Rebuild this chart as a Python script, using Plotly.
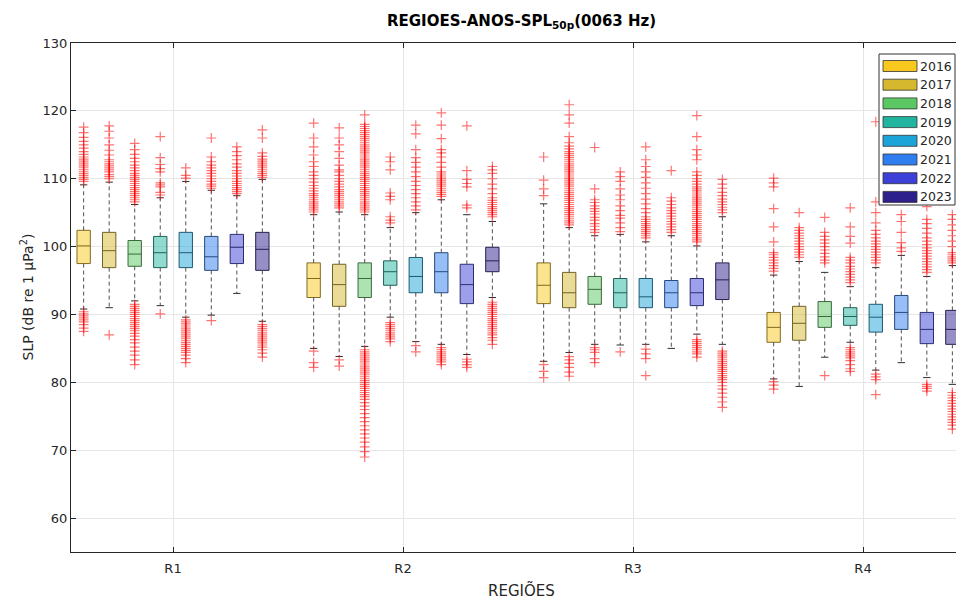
import plotly.graph_objects as go

# ---------------- data ----------------
REGIONS = ["R1", "R2", "R3", "R4"]
YEARS = ["2016", "2017", "2018", "2019", "2020", "2021", "2022", "2023"]
COLORS = ["#F9C81E", "#D6B82E", "#5CC863", "#21B5A0",
          "#1CA3D8", "#2F7EF0", "#3C40D6", "#2E208C"]

# rows = years, columns = regions R1..R4
Q3 = [[102.4, 97.6, 97.6, 90.3],
      [102.1, 97.4, 96.2, 91.2],
      [100.9, 97.6, 95.6, 91.9],
      [101.5, 97.9, 95.3, 91.0],
      [102.1, 98.4, 95.3, 91.5],
      [101.5, 99.1, 95.0, 92.8],
      [101.8, 97.4, 95.3, 90.3],
      [102.1, 99.9, 97.6, 90.6]]
MED = [[100.1, 95.3, 94.3, 88.1],
       [99.4, 94.4, 93.2, 88.7],
       [98.9, 95.3, 93.7, 89.7],
       [99.1, 96.3, 93.2, 89.7],
       [99.1, 95.6, 92.6, 89.6],
       [98.5, 96.3, 93.2, 90.3],
       [99.9, 94.4, 93.2, 87.8],
       [99.6, 97.9, 95.1, 87.8]]
Q1 = [[97.5, 92.5, 91.6, 85.9],
      [96.9, 91.2, 91.0, 86.2],
      [97.1, 92.5, 91.5, 88.1],
      [96.9, 94.3, 91.0, 88.4],
      [96.9, 93.2, 91.0, 87.4],
      [96.5, 93.2, 91.0, 87.8],
      [97.5, 91.6, 91.3, 85.7],
      [96.5, 96.3, 92.2, 85.6]]
WHI = [[109.1, 104.7, 106.3, 95.8],
       [109.5, 105.1, 102.8, 97.8],
       [106.2, 104.7, 101.6, 96.2],
       [107.2, 102.8, 101.8, 94.1],
       [109.6, 105.0, 100.7, 96.9],
       [108.3, 106.9, 101.6, 98.7],
       [107.5, 104.7, 100.1, 95.6],
       [109.9, 103.7, 104.4, 97.2]]
WLO = [[90.8, 85.0, 83.1, 80.5],
       [91.0, 83.8, 84.4, 79.4],
       [92.0, 85.3, 85.6, 83.7],
       [91.3, 89.6, 85.5, 85.9],
       [89.6, 86.0, 85.6, 81.8],
       [89.9, 85.6, 85.0, 82.9],
       [93.1, 84.1, 87.1, 80.7],
       [89.0, 92.5, 85.6, 79.7]]

# outliers per region, one list per year (2016..2023)
OUT_R1 = [
    [109.6, 109.9, 110.2, 110.5, 110.8, 111.1, 111.4, 111.7, 112.0, 112.3, 112.6, 112.9, 113.2, 113.6, 114.0,
     114.5, 115.0, 115.5, 116.1, 116.8, 117.6,
     90.4, 90.1, 89.8, 89.5, 89.2, 88.9, 88.5, 88.0, 87.5],
    [110.0, 110.3, 110.6, 111.0, 111.3, 111.6, 111.9, 112.2, 112.5, 112.8, 113.5, 114.2, 115.0, 116.0, 117.0,
     117.8, 87.0],
    [106.6, 106.9, 107.2, 107.5, 107.8, 108.1, 108.4, 108.7, 109.0, 109.3, 109.6, 109.9, 110.2, 110.5, 110.8,
     111.2, 111.6, 112.0, 112.5, 113.0, 113.6, 114.3, 115.2,
     91.5, 91.2, 90.9, 90.6, 90.3, 90.0, 89.7, 89.4, 89.1, 88.8, 88.5, 88.2, 87.9, 87.6, 87.2, 86.8, 86.3,
     85.8, 85.2, 84.6, 84.0, 83.3, 82.6],
    [107.6, 108.0, 108.8, 109.1, 109.4, 111.0, 111.5, 112.1, 113.1, 116.2, 90.1],
    [110.1, 110.5, 111.6,
     89.2, 88.9, 88.6, 88.3, 88.0, 87.7, 87.4, 87.1, 86.8, 86.5, 86.2, 85.9, 85.6, 85.3, 85.0, 84.7, 84.4,
     84.0, 83.5, 82.9],
    [108.6, 108.9, 109.2, 109.6, 110.0, 110.4, 110.8, 111.2, 111.6, 112.0, 112.5, 113.2, 116.0, 89.1],
    [107.8, 108.1, 108.4, 108.7, 109.0, 109.3, 109.6, 110.0, 110.4, 110.8, 111.2, 111.7, 112.2, 112.8, 113.4,
     114.0, 114.7],
    [110.2, 110.5, 110.8, 111.1, 111.4, 111.7, 112.0, 112.3, 112.6, 112.9, 113.3, 113.8, 116.0, 117.2,
     88.5, 88.2, 87.9, 87.6, 87.3, 87.0, 86.7, 86.4, 86.1, 85.8, 85.5, 85.2, 84.8, 84.3, 83.7],
]
OUT_R2 = [
    [105.1, 105.4, 105.7, 106.0, 106.3, 106.6, 106.9, 107.2, 107.5, 107.8, 108.2, 108.6, 109.0, 109.5, 110.0,
     110.5, 111.0, 111.8, 112.5, 113.5, 114.7, 116.0, 118.2, 84.6, 82.9, 82.2],
    [105.7, 106.0, 106.3, 106.6, 106.9, 107.2, 107.5, 107.8, 108.1, 108.4, 108.8, 109.2, 109.6, 110.0, 110.5,
     111.0, 111.3, 112.0, 113.0, 114.0, 115.0, 116.0, 117.5, 83.3, 82.4],
    [105.1, 105.4, 105.7, 106.0, 106.3, 106.6, 106.9, 107.2, 107.5, 107.8, 108.1, 108.4, 108.7, 109.0, 109.3,
     109.6, 109.9, 110.2, 110.5, 110.8, 111.1, 111.4, 111.7, 112.0, 112.3, 112.6, 112.9, 113.2, 113.5, 113.8,
     114.1, 114.4, 114.7, 115.0, 115.3, 115.6, 115.9, 116.2, 116.5, 116.8, 117.1, 117.4, 117.7, 118.0, 119.4,
     84.8, 84.5, 84.2, 83.9, 83.6, 83.3, 83.0, 82.7, 82.4, 82.1, 81.8, 81.5, 81.2, 80.9, 80.6, 80.3, 80.0,
     79.7, 79.4, 79.1, 78.8, 78.5, 78.2, 77.9, 77.5, 77.0, 76.5, 76.0, 75.4, 74.8, 74.2, 73.6, 73.0, 72.4,
     71.8, 71.2, 70.5, 69.8, 69.0],
    [103.5, 103.9, 104.4, 106.9, 107.4, 107.9, 111.3, 112.5, 113.2,
     88.8, 88.5, 88.2, 87.9, 87.6, 87.3, 87.0, 86.7, 86.4, 86.0],
    [105.4, 106.0, 106.6, 107.2, 107.8, 108.4, 109.0, 109.6, 110.3, 111.0, 111.7, 112.4, 113.1, 114.3, 116.6,
     117.9, 85.4, 84.5],
    [107.4, 107.7, 108.0, 108.3, 108.6, 108.9, 109.2, 109.5, 109.8, 110.1, 110.4, 110.7, 111.0, 111.7, 112.4,
     113.2, 113.8, 114.3, 115.9, 117.9, 119.7,
     85.1, 84.8, 84.5, 84.2, 83.9, 83.6, 83.3, 83.0, 82.6],
    [105.7, 106.1, 108.8, 109.3, 109.9, 111.2, 117.8, 83.4, 83.0, 82.6, 82.2],
    [104.4, 104.7, 105.0, 105.3, 105.6, 105.9, 106.2, 106.5, 106.8, 107.2, 107.8, 108.5, 109.2, 110.0, 110.8,
     111.3, 111.8,
     91.8, 91.5, 91.2, 90.9, 90.6, 90.3, 90.0, 89.7, 89.4, 89.1, 88.8, 88.5, 88.2, 87.9, 87.6, 87.3, 87.0,
     86.6, 86.2, 85.6],
]
OUT_R3 = [
    [107.5, 108.5, 109.8, 113.2, 82.6, 81.6, 80.7],
    [103.2, 103.5, 103.8, 104.1, 104.4, 104.7, 105.0, 105.3, 105.6, 105.9, 106.2, 106.5, 106.8, 107.1, 107.4,
     107.7, 108.0, 108.3, 108.6, 108.9, 109.2, 109.5, 109.8, 110.1, 110.4, 110.7, 111.0, 111.3, 111.6, 111.9,
     112.2, 112.5, 112.8, 113.1, 113.4, 113.7, 114.0, 114.4, 114.8, 115.3, 116.2, 118.2, 119.4, 120.9,
     83.8, 83.3, 82.8, 82.2, 81.5, 80.9],
    [102.1, 102.5, 103.0, 103.4, 103.9, 104.3, 104.8, 105.2, 105.6, 106.0, 106.5, 106.9, 108.5, 114.6,
     85.1, 84.8, 84.4, 83.5, 82.9],
    [102.2, 102.8, 103.5, 104.2, 104.6, 105.3, 106.0, 106.9, 107.6, 108.5, 109.6, 110.3, 111.0, 84.5],
    [101.3, 101.6, 101.9, 102.2, 102.5, 102.8, 103.1, 103.4, 103.7, 104.0, 104.4, 105.0, 105.6, 106.3, 107.0,
     107.8, 108.6, 109.4, 110.2, 111.0, 111.8, 112.8, 114.7, 84.9, 84.2, 83.5, 81.0],
    [102.1, 102.5, 102.9, 103.3, 103.7, 104.1, 104.5, 104.9, 105.3, 105.7, 106.2, 106.7, 107.2, 111.2],
    [100.7, 101.0, 101.3, 101.6, 101.9, 102.2, 102.5, 102.8, 103.1, 103.4, 103.7, 104.0, 104.3, 104.6, 104.9,
     105.2, 105.5, 105.8, 106.1, 106.4, 106.7, 107.0, 107.3, 107.6, 107.9, 108.2, 108.5, 108.8, 109.2, 109.6,
     110.0, 110.5, 111.0, 112.8, 113.5, 114.3, 116.2, 119.3,
     86.3, 86.0, 85.7, 85.4, 85.1, 84.8, 84.5, 84.2, 83.7],
    [105.0, 105.4, 105.8, 106.2, 106.6, 107.0, 107.5, 108.0, 108.6, 109.2, 109.9,
     84.6, 84.3, 84.0, 83.7, 83.4, 83.1, 82.8, 82.5, 82.2, 81.9, 81.6, 81.3, 81.0, 80.7, 80.4, 80.0, 79.5,
     79.0, 78.4, 77.8, 77.1, 76.3],
]
OUT_R4 = [
    [96.4, 96.8, 97.2, 97.6, 98.0, 98.4, 98.8, 99.1, 100.7, 102.9, 105.6, 108.8, 109.4, 110.1, 80.1, 79.6, 79.0],
    [98.4, 98.8, 99.2, 99.6, 100.0, 100.4, 100.8, 101.2, 101.6, 102.0, 102.4, 102.8, 105.0],
    [97.6, 98.0, 98.5, 99.0, 99.5, 100.0, 100.5, 101.0, 101.5, 102.1, 104.3, 81.0],
    [94.7, 95.1, 95.5, 95.9, 96.3, 96.7, 97.1, 97.6, 98.0, 98.4, 100.5, 101.5, 102.9, 105.7,
     85.1, 84.8, 84.5, 84.2, 83.9, 83.6, 83.2, 82.6, 82.0, 81.6],
    [97.6, 98.0, 98.4, 98.8, 99.2, 99.6, 100.0, 100.4, 100.8, 101.3, 101.8, 102.4, 103.5, 105.0, 106.6, 118.4,
     81.2, 80.8, 80.4, 78.2],
    [99.3, 99.8, 100.6, 102.1, 103.7, 104.7],
    [96.2, 96.6, 97.0, 97.4, 97.8, 98.2, 98.6, 99.0, 99.4, 99.8, 100.3, 100.8, 101.3, 102.0, 102.7, 103.4,
     104.0, 105.9, 79.7, 79.4, 79.1, 78.7],
    [97.6, 97.9, 98.2, 98.5, 98.8, 99.1, 100.0, 100.8, 101.6, 102.4, 103.2, 104.0, 104.7,
     78.5, 78.1, 77.7, 77.3, 76.9, 76.5, 76.1, 75.7, 75.3, 74.9, 74.5, 74.1, 73.7, 73.1],
]
OUTLIERS = [OUT_R1, OUT_R2, OUT_R3, OUT_R4]

# ---------------- style / layout constants ----------------
W, H = 956, 599
ML, MR, MT, MB = 71, 0, 43, 47
PW, PH = W - ML - MR, H - MT - MB
GROUP_STEP = 0.111      # spacing between years inside a region (x units)
BOX_W = 0.058
CAP_HALF = 0.016
X_RANGE = [0.5565, 0.5565 + PW / 230.0]
AX_COL = "#262626"
FONT = "DejaVu Sans, Liberation Sans, Arial, sans-serif"


def hex_rgb(h):
    h = h.lstrip("#")
    return tuple(int(h[i:i + 2], 16) for i in (0, 2, 4))


def rgba(h, a):
    r, g, b = hex_rgb(h)
    return f"rgba({r},{g},{b},{a})"


def dark(h, f=0.5, base=30):
    r, g, b = hex_rgb(h)
    return f"rgb({int(r * f + base * (1 - f))},{int(g * f + base * (1 - f))},{int(b * f + base * (1 - f))})"


def xpos(ri, yi):
    return (ri + 1) + (yi - (len(YEARS) - 1) / 2) * GROUP_STEP


fig = go.Figure()

# whiskers (dashed) and caps
for yi, yr in enumerate(YEARS):
    wx, wy, cx, cy = [], [], [], []
    for ri in range(len(REGIONS)):
        p = xpos(ri, yi)
        wx += [p, p, None, p, p, None]
        wy += [Q3[yi][ri], WHI[yi][ri], None, Q1[yi][ri], WLO[yi][ri], None]
        cx += [p - CAP_HALF, p + CAP_HALF, None, p - CAP_HALF, p + CAP_HALF, None]
        cy += [WHI[yi][ri], WHI[yi][ri], None, WLO[yi][ri], WLO[yi][ri], None]
    fig.add_trace(go.Scatter(x=wx, y=wy, mode="lines", showlegend=False, hoverinfo="skip",
                             line=dict(color="#505050", width=1, dash="4px,3px")))
    fig.add_trace(go.Scatter(x=cx, y=cy, mode="lines", showlegend=False, hoverinfo="skip",
                             line=dict(color="#303030", width=1)))

# boxes
for yi, yr in enumerate(YEARS):
    xs = [xpos(ri, yi) for ri in range(len(REGIONS))]
    fig.add_trace(go.Box(
        name=yr, x=xs, q1=Q1[yi], median=MED[yi], q3=Q3[yi],
        lowerfence=Q1[yi], upperfence=Q3[yi],
        width=BOX_W, whiskerwidth=0, boxpoints=False,
        fillcolor=rgba(COLORS[yi], 0.5),
        line=dict(color=dark(COLORS[yi], 0.45), width=1),
        showlegend=False, hoverinfo="skip"))

# outliers
ox, oy = [], []
for ri, per_year in enumerate(OUTLIERS):
    for yi, vals in enumerate(per_year):
        p = xpos(ri, yi)
        ox += [p] * len(vals)
        oy += vals
fig.add_trace(go.Scatter(x=ox, y=oy, mode="markers", showlegend=False, hoverinfo="skip",
                         marker=dict(symbol="cross-thin", size=7,
                                     line=dict(width=1.2, color="rgba(255,0,0,0.55)"))))

# ---------------- custom legend (MATLAB style) ----------------
def px2paper_x(px):
    return (px - ML) / PW


def px2paper_y(py):
    return (H - MB - py) / PH


shapes = []
annotations = []
LEG_L, LEG_R, LEG_T, LEG_B = 879, 955, 54, 205
shapes.append(dict(type="rect", xref="paper", yref="paper",
                   x0=px2paper_x(LEG_L), x1=px2paper_x(LEG_R),
                   y0=px2paper_y(LEG_B), y1=px2paper_y(LEG_T),
                   fillcolor="white", line=dict(color="#333333", width=1), layer="above"))
for i, yr in enumerate(YEARS):
    cy = 66 + i * 18.7
    shapes.append(dict(type="rect", xref="paper", yref="paper",
                       x0=px2paper_x(883), x1=px2paper_x(917),
                       y0=px2paper_y(cy + 5.5), y1=px2paper_y(cy - 5.5),
                       fillcolor=COLORS[i], line=dict(color="#333333", width=0.8), layer="above"))
    annotations.append(dict(xref="paper", yref="paper", x=px2paper_x(918), y=px2paper_y(cy),
                            xanchor="left", yanchor="middle", showarrow=False, text=yr,
                            font=dict(family=FONT, size=12.5, color=AX_COL)))

# title, axis labels
annotations.append(dict(xref="paper", yref="paper", x=px2paper_x(521), y=px2paper_y(21),
                        xanchor="center", yanchor="middle", showarrow=False,
                        text="<b>REGIOES-ANOS-SPL<sub>50p</sub>(0063 Hz)</b>",
                        font=dict(family=FONT, size=15, color="#000000")))
annotations.append(dict(xref="paper", yref="paper", x=px2paper_x(521), y=px2paper_y(590),
                        xanchor="center", yanchor="middle", showarrow=False, text="REGIÕES",
                        font=dict(family=FONT, size=15, color=AX_COL)))
annotations.append(dict(xref="paper", yref="paper", x=px2paper_x(27), y=0.5,
                        xanchor="center", yanchor="middle", showarrow=False, textangle=-90,
                        text="SLP (dB re 1 μPa<sup>2</sup>)",
                        font=dict(family=FONT, size=14, color=AX_COL)))

fig.update_layout(
    width=W, height=H, margin=dict(l=ML, r=MR, t=MT, b=MB),
    paper_bgcolor="white", plot_bgcolor="white",
    font=dict(family=FONT, size=13, color=AX_COL),
    boxmode="overlay", shapes=shapes, annotations=annotations,
    xaxis=dict(range=X_RANGE, tickmode="array", tickvals=[1, 2, 3, 4], ticktext=REGIONS,
               showgrid=True, gridcolor="#E6E6E6", gridwidth=1, zeroline=False,
               showline=True, linecolor=AX_COL, linewidth=1, mirror="ticks",
               ticks="inside", ticklen=5, tickcolor=AX_COL, ticklabelstandoff=4,
               tickfont=dict(family=FONT, size=13, color=AX_COL)),
    yaxis=dict(range=[55, 130], tickmode="array", tickvals=[60, 70, 80, 90, 100, 110, 120, 130],
               showgrid=True, gridcolor="#E6E6E6", gridwidth=1, zeroline=False,
               showline=True, linecolor=AX_COL, linewidth=1, mirror=False,
               ticks="inside", ticklen=5, tickcolor=AX_COL,
               tickfont=dict(family=FONT, size=13, color=AX_COL)),
)

fig.write_html("out.html")
